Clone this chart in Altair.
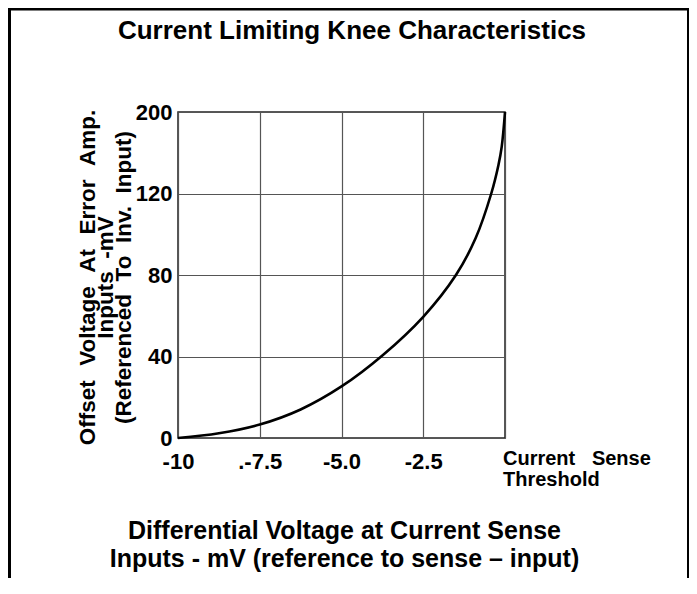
import altair as alt
import pandas as pd

# ---- data ----
x_mv = [-10, -8.75, -7.5, -6.25, -5, -3.75, -2.5, -1.5, -0.9, -0.42, -0.2, -0.1, 0]
offset_mv = [0, 2.3, 6.6, 14, 25.3, 40.5, 59.5, 80, 98, 120, 134, 143, 160]

x_ticks = [-10, -7.5, -5, -2.5, 0]
x_tick_labels = ["-10", ".-7.5", "-5.0", "-2.5", ""]
y_ticks = [0, 40, 80, 120, 160]
y_tick_labels = ["0", "40", "80", "120", "200"]

NB = "\u00a0"
HS = "\u200a"
title_text = "Current Limiting Knee Characteristics"
y_title = [
    f"Offset{NB}{HS} Voltage{NB}{HS} At{NB}{HS} Error{NB}{HS} Amp.",
    f"Inputs{NB} -mV",
    f"(Referenced{NB} To{NB} Inv.{NB} Input)",
]
x_title = ["Differential Voltage at Current Sense", "Inputs - mV (reference to sense \u2013 input)"]
threshold_text = [f"Current{NB*2} Sense", "Threshold"]

FONT = "Liberation Sans"


def label_expr(values, labels):
    expr = "''"
    for v, l in reversed(list(zip(values, labels))):
        expr = f"datum.value == {v} ? '{l}' : ({expr})"
    return expr


df = pd.DataFrame({"x": x_mv, "y": offset_mv})

line = alt.Chart(df).mark_line(color="black", strokeWidth=2.6, interpolate="catmull-rom").encode(
    x=alt.X(
        "x:Q",
        scale=alt.Scale(domain=[-10, 0], nice=False, zero=False),
        axis=alt.Axis(
            values=x_ticks, labelExpr=label_expr(x_ticks, x_tick_labels),
            labelFont=FONT, labelFontSize=22, labelFontWeight="bold", labelColor="black",
            labelPadding=13, labelFlush=False, labelOverlap=False,
            ticks=False, domain=False, grid=True, gridColor="#555555", gridWidth=1.2,
            title=x_title, titleFont=FONT, titleFontSize=25, titleFontWeight="bold",
            titleColor="black", titleBaseline="top", titleAlign="center",
            titleX=166, titleY=80, titleLineHeight=28,
        ),
    ),
    y=alt.Y(
        "y:Q",
        scale=alt.Scale(domain=[0, 160], nice=False, zero=True),
        axis=alt.Axis(
            values=y_ticks, labelExpr=label_expr(y_ticks, y_tick_labels),
            labelFont=FONT, labelFontSize=22, labelFontWeight="bold", labelColor="black",
            labelPadding=6, labelOffset=0, labelFlush=False, labelOverlap=False,
            ticks=False, domain=False, grid=True, gridColor="#555555", gridWidth=1.2,
            title=y_title, titleFont=FONT, titleFontSize=22.5, titleFontWeight="bold",
            titleColor="black", titleBaseline="top", titleAlign="center", titleAngle=270,
            titleX=-102, titleY=165, titleLineHeight=18,
        ),
    ),
)

one = pd.DataFrame({"k": [0]})

title = alt.Chart(one).mark_text(
    text=title_text, font=FONT, fontSize=26, fontWeight="bold", color="black",
    align="center", baseline="alphabetic",
).encode(x=alt.value(174), y=alt.value(-73))

threshold = alt.Chart(one).mark_text(
    text=threshold_text, font=FONT, fontSize=20, fontWeight="bold", color="black",
    align="left", baseline="top", lineHeight=20.5,
).encode(x=alt.value(325), y=alt.value(337))

frame_top = alt.Chart(one).mark_rule(color="black", strokeWidth=3).encode(
    x=alt.value(-168.5), x2=alt.value(510), y=alt.value(-103))
frame_left = alt.Chart(one).mark_rule(color="black", strokeWidth=3).encode(
    x=alt.value(-168.5), y=alt.value(-104), y2=alt.value(470))
frame_right = alt.Chart(one).mark_rule(color="black", strokeWidth=3).encode(
    x=alt.value(510.5), y=alt.value(-104), y2=alt.value(470))

chart = alt.layer(line, title, threshold, frame_top, frame_left, frame_right).properties(
    width=327, height=326,
    autosize=alt.AutoSizeParams(type="none"),
    padding={"left": 170, "top": 104, "right": 184, "bottom": 140},
    background="white",
).configure_view(stroke="#222222", strokeWidth=1.5)

chart.save("out.html", embed_options={"renderer": "svg", "actions": False})
